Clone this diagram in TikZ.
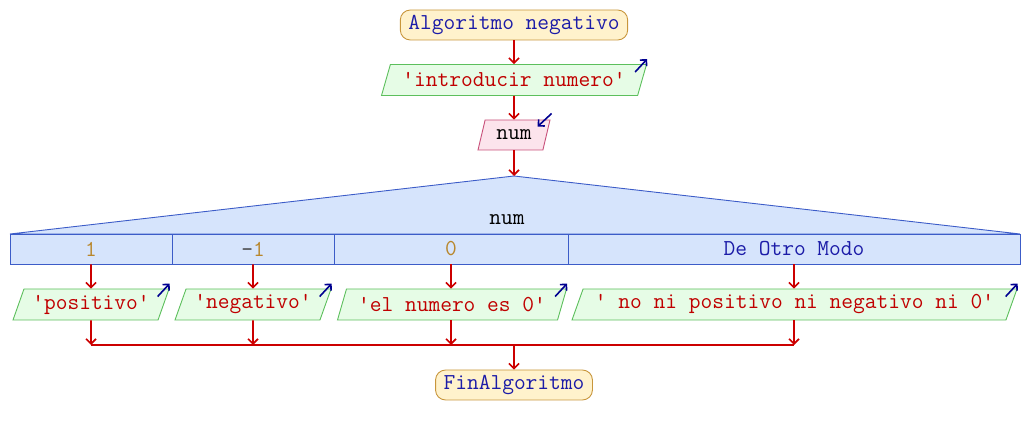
\documentclass[tikz,border=0pt]{standalone}
\usepackage{fontspec}
\usetikzlibrary{shapes.geometric,positioning,arrows.meta}

\definecolor{termfill}{HTML}{FFF2CC}
\definecolor{termdraw}{HTML}{C8963C}
\definecolor{kwblue}{HTML}{1C1CA8}
\definecolor{outfill}{HTML}{E6FCE6}
\definecolor{outdraw}{HTML}{5CBF5C}
\definecolor{strred}{HTML}{C00000}
\definecolor{inpfill}{HTML}{FCE4EC}
\definecolor{inpdraw}{HTML}{C8507A}
\definecolor{swfill}{HTML}{D6E4FC}
\definecolor{swdraw}{HTML}{3C5CC8}
\definecolor{numgold}{HTML}{B8862B}
\definecolor{flowred}{HTML}{CC0000}
\definecolor{iconblue}{HTML}{000090}

\tikzset{
  every node/.style={font=\ttfamily\fontsize{22.8}{27}\selectfont},
  term/.style={rounded corners=10pt,draw=termdraw,fill=termfill,text=kwblue,
    line width=0.9pt,minimum height=30pt,inner xsep=8pt},
  outp/.style={trapezium,trapezium left angle=67,trapezium right angle=113,
    trapezium stretches body,draw=outdraw,fill=outfill,text=strred,
    line width=0.9pt,minimum height=31pt},
  inp/.style={trapezium,trapezium left angle=67,trapezium right angle=113,
    trapezium stretches body,draw=inpdraw,fill=inpfill,text=black,
    line width=0.9pt,minimum height=30pt},
  cell/.style={rectangle,draw=swdraw,fill=swfill,line width=0.9pt,
    minimum height=30pt,inner sep=0pt},
  icon/.style={draw=iconblue,line width=1.6pt,-{Straight Barb[length=4.5pt]}}
}

\begin{document}
\begin{tikzpicture}[x=1pt,y=-1pt,node distance=55pt,on grid,>={Straight Barb[length=5pt]}]
\useasboundingbox (0,0) rectangle (1028,435);
\node[term] (start) at (514,25) {Algoritmo negativo};
\node[outp,minimum width=265pt] (msg) [below=of start] {'introducir numero'};
\node[inp,minimum width=72pt] (num) [below=of msg] {num};
% selector
\coordinate (sel) at (514,176);
\filldraw[draw=swdraw,fill=swfill,line width=0.9pt] (sel) -- (1020,234) -- (10,234) -- cycle;
\node (selvar) at (507,220) {num};
\node[cell,minimum width=162pt,text=numgold] (c1) at (91,249) {1};
\node[cell,minimum width=162pt,text=numgold] (c2) at (253,249) {\textcolor{darkgray}{-}1};
\node[cell,minimum width=234pt,text=numgold] (c3) at (451,249) {0};
\node[cell,minimum width=452pt,text=kwblue] (c4) at (794,249) {De Otro Modo};
% salidas
\node[outp,minimum width=156pt] (o1) at (91,304.5) {'positivo'};
\node[outp,minimum width=156pt] (o2) at (253,304.5) {'negativo'};
\node[outp,minimum width=229pt] (o3) at (452,304.5) {'el numero es 0'};
\node[outp,minimum width=445pt] (o4) at (794.5,304.5) {' no ni positivo ni negativo ni 0'};
\node[term] (end) at (514,385) {FinAlgoritmo};
\coordinate (m1) at (91,345);
\coordinate (m2) at (253,345);
\coordinate (m3) at (451,345);
\coordinate (m4) at (794,345);
\coordinate (mj) at (514,345);
\path[->,flowred,line width=1.6pt]
  (start) edge (msg)
  (msg) edge (num)
  (num) edge (sel)
  (c1) edge (o1)
  (c2) edge (o2)
  (c3.south) edge (c3.south |- o3.north)
  (c4) edge (c4 |- o4.north)
  (o1) edge (m1)
  (o2) edge (m2)
  (o3.south -| m3) edge (m3)
  (o4.south -| m4) edge (m4)
  (mj) edge (end);
\draw[flowred,line width=1.6pt] (m1) -- (m4);
% iconos
\foreach \o in {msg,o1,o2,o3,o4}
  \draw[icon] ([shift={(-12,8)}]\o.top right corner) -- ([shift={(0,-5)}]\o.top right corner);
\draw[icon] ([shift={(1,-6)}]num.top right corner) -- ([shift={(-13,7)}]num.top right corner);
\end{tikzpicture}
\end{document}
